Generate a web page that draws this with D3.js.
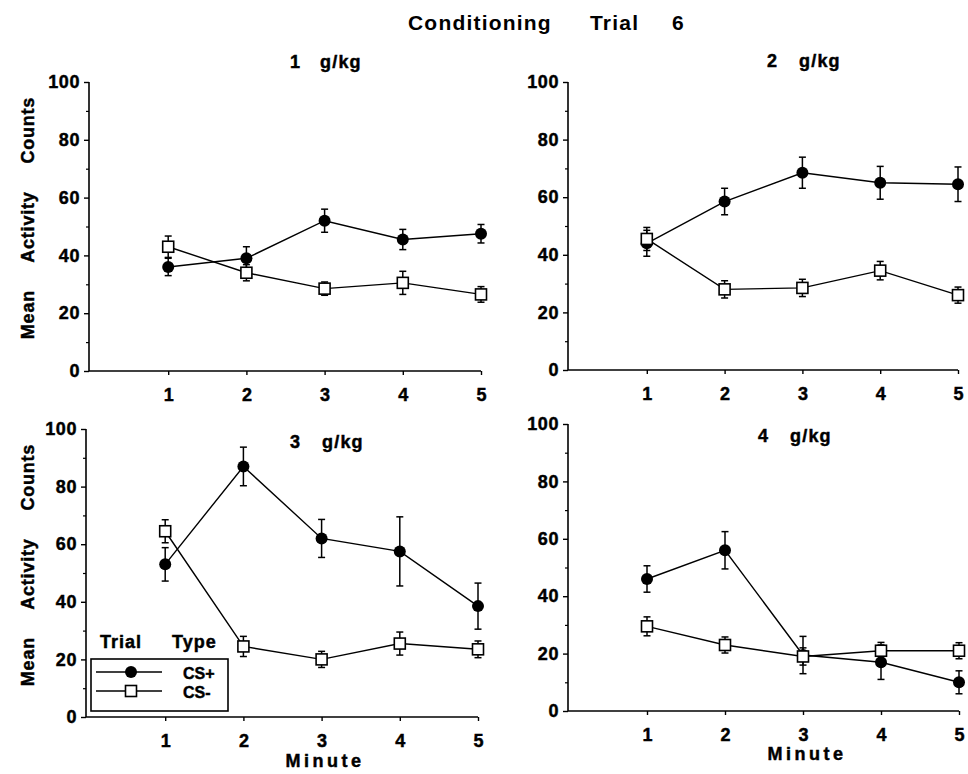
<!DOCTYPE html>
<html>
<head>
<meta charset="utf-8">
<script src="https://cdn.jsdelivr.net/npm/d3@7"></script>
<style>
  html, body { margin: 0; padding: 0; background: #fff; }
  svg { display: block; }
  text { font-family: "Liberation Sans", Arial, Helvetica, sans-serif; fill: #000; }
  .heavy { stroke: #000; stroke-width: 0.45px; }
</style>
</head>
<body>
<svg id="chart" width="968" height="774"></svg>
<script>
// ---- data ----
const minutes = [1, 2, 3, 4, 5];
const yTicks = [0, 20, 40, 60, 80, 100];
const yMinorTicks = [10, 30, 50, 70, 90];
const doses = ["1", "2", "3", "4"];
const seriesNames = ["CS+", "CS-"];

const csPlus1 = [36, 39, 52, 45.5, 47.5];
const csPlusErr1 = [3, 4, 4, 3.5, 3.2];
const csMinus1 = [43, 34, 28.5, 30.5, 26.5];
const csMinusErr1 = [3.7, 2.8, 2.3, 4, 2.7];

const csPlus2 = [44, 58.5, 68.5, 65, 64.5];
const csPlusErr2 = [4.5, 4.6, 5.4, 5.7, 6];
const csMinus2 = [45.5, 28, 28.5, 34.5, 26];
const csMinusErr2 = [4, 3, 3, 3.2, 2.8];

const csPlus3 = [53, 87, 62, 57.5, 38.5];
const csPlusErr3 = [5.8, 6.7, 6.6, 12, 8];
const csMinus3 = [64.5, 24.5, 20, 25.5, 23.5];
const csMinusErr3 = [4, 3.5, 2.8, 4, 2.9];

const csPlus4 = [46, 56, 19.5, 17, 10];
const csPlusErr4 = [4.6, 6.5, 6.5, 6, 4];
const csMinus4 = [29.5, 23, 19, 21, 21];
const csMinusErr4 = [3.3, 2.8, 3, 2.9, 2.8];

const plusData = [csPlus1, csPlus2, csPlus3, csPlus4];
const plusErr = [csPlusErr1, csPlusErr2, csPlusErr3, csPlusErr4];
const minusData = [csMinus1, csMinus2, csMinus3, csMinus4];
const minusErr = [csMinusErr1, csMinusErr2, csMinusErr3, csMinusErr4];

// ---- layout ----
const panels = [
  { x0: 90,  x1: 481, y0: 371, y1: 82,  title: [290, 320, 68],  ylab: 218, minute: null },
  { x0: 569, x1: 958, y0: 370, y1: 82,  title: [767, 799, 67],  ylab: null, minute: null },
  { x0: 87,  x1: 478, y0: 717, y1: 429, title: [290, 322, 448], ylab: 565, minute: [325, 767] },
  { x0: 569, x1: 959, y0: 711, y1: 424, title: [758, 790, 442], ylab: null, minute: [807, 760] }
];

const svg = d3.select("#chart");

// title
const t = svg.append("text").attr("y", 30).attr("font-size", 21).attr("font-weight", "bold").attr("letter-spacing", 1.2);
t.append("tspan").attr("x", 408).text("Conditioning");
t.append("tspan").attr("x", 590).text("Trial");
t.append("tspan").attr("x", 672).text("6");

panels.forEach((p, i) => {
  const x = d3.scaleLinear().domain([0, 5]).range([p.x0, p.x1]);
  const y = d3.scaleLinear().domain([0, 100]).range([p.y0, p.y1]);
  const g = svg.append("g");

  // y axis
  const yAxis = d3.axisLeft(y).tickValues(yTicks).tickSize(5).tickPadding(4).tickFormat(d3.format("d"));
  const ya = g.append("g").attr("transform", `translate(${x(0) - 1},0)`).call(yAxis);
  ya.select(".domain").attr("stroke-width", 1.6).attr("d", `M0,${p.y0}V${p.y1}`);
  ya.selectAll(".tick line").attr("stroke-width", 1.4);
  ya.selectAll(".tick text").attr("class", "heavy").attr("font-size", 18).attr("font-weight", "bold")
    .attr("font-family", "'Liberation Sans', Arial, sans-serif").attr("letter-spacing", 0.6);
  const yMinor = d3.axisLeft(y).tickValues(yMinorTicks).tickSize(3).tickFormat("");
  const ym = g.append("g").attr("transform", `translate(${x(0) - 1},0)`).call(yMinor);
  ym.select(".domain").remove();
  ym.selectAll(".tick line").attr("stroke-width", 1.2);

  // x axis
  const xAxis = d3.axisBottom(x).tickValues(minutes).tickSize(4).tickPadding(13).tickFormat(d3.format("d"));
  const xa = g.append("g").attr("transform", `translate(0,${p.y0})`).call(xAxis);
  xa.select(".domain").attr("stroke-width", 1.6).attr("d", `M${x(0) - 1},0H${x(5)}`);
  xa.selectAll(".tick line").attr("stroke-width", 1.4);
  xa.selectAll(".tick text").attr("class", "heavy").attr("font-size", 18).attr("font-weight", "bold")
    .attr("font-family", "'Liberation Sans', Arial, sans-serif");

  // panel title
  const pt = g.append("text").attr("class", "heavy").attr("y", p.title[2]).attr("font-size", 18).attr("font-weight", "bold").attr("letter-spacing", 1.2);
  pt.append("tspan").attr("x", p.title[0]).text(doses[i]);
  pt.append("tspan").attr("x", p.title[1]).text("g/kg");

  // y label
  if (p.ylab !== null) {
    g.append("text").attr("class", "heavy")
      .attr("transform", `translate(34,${p.ylab}) rotate(-90)`)
      .attr("text-anchor", "middle")
      .attr("font-size", 18).attr("font-weight", "bold")
      .attr("letter-spacing", 0.8)
      .attr("word-spacing", 22)
      .text("Mean Activity Counts");
  }
  if (p.minute !== null) {
    g.append("text").attr("class", "heavy")
      .attr("x", p.minute[0]).attr("y", p.minute[1])
      .attr("text-anchor", "middle")
      .attr("font-size", 18).attr("font-weight", "bold")
      .attr("letter-spacing", 3.5)
      .text("Minute");
  }

  const line = d3.line().x((d, k) => x(minutes[k])).y(d => y(d));

  const drawSeries = (vals, errs, type) => {
    g.append("path").datum(vals).attr("d", line)
      .attr("fill", "none").attr("stroke", "#000").attr("stroke-width", 1.4);
    const eb = g.append("g");
    vals.forEach((v, k) => {
      const cx = x(minutes[k]);
      const top = y(v + errs[k]), bot = y(v - errs[k]);
      eb.append("line").attr("x1", cx).attr("x2", cx).attr("y1", top).attr("y2", bot)
        .attr("stroke", "#000").attr("stroke-width", 1.5);
      [top, bot].forEach(yy => eb.append("line").attr("x1", cx - 3.5).attr("x2", cx + 3.5)
        .attr("y1", yy).attr("y2", yy).attr("stroke", "#000").attr("stroke-width", 1.5));
    });
    const mk = g.append("g");
    vals.forEach((v, k) => {
      const cx = x(minutes[k]), cy = y(v);
      if (type === "plus") {
        mk.append("circle").attr("cx", cx).attr("cy", cy).attr("r", 6).attr("fill", "#000");
      } else {
        mk.append("rect").attr("x", cx - 5.5).attr("y", cy - 5.5).attr("width", 11).attr("height", 11)
          .attr("fill", "#fff").attr("stroke", "#000").attr("stroke-width", 1.6);
      }
    });
  };
  drawSeries(plusData[i], plusErr[i], "plus");
  drawSeries(minusData[i], minusErr[i], "minus");
});

// legend (in panel 3)
const lg = svg.append("g");
const lt = lg.append("text").attr("class", "heavy").attr("y", 648).attr("font-size", 18).attr("font-weight", "bold").attr("letter-spacing", 1);
lt.append("tspan").attr("x", 100).text("Trial");
lt.append("tspan").attr("x", 172).text("Type");
lg.append("rect").attr("x", 91).attr("y", 659).attr("width", 137).attr("height", 52)
  .attr("fill", "none").attr("stroke", "#000").attr("stroke-width", 1.6);
const legY = [672, 691];
seriesNames.forEach((name, k) => {
  lg.append("line").attr("x1", 96).attr("x2", 162).attr("y1", legY[k]).attr("y2", legY[k])
    .attr("stroke", "#000").attr("stroke-width", 1.4);
  if (k === 0) {
    lg.append("circle").attr("cx", 131).attr("cy", legY[k]).attr("r", 6).attr("fill", "#000");
  } else {
    lg.append("rect").attr("x", 125.5).attr("y", legY[k] - 5.5).attr("width", 11).attr("height", 11)
      .attr("fill", "#fff").attr("stroke", "#000").attr("stroke-width", 1.6);
  }
  lg.append("text").attr("class", "heavy").attr("x", 183).attr("y", legY[k] + 7).attr("font-size", 16).attr("font-weight", "bold")
    .text(name);
});
</script>
</body>
</html>
